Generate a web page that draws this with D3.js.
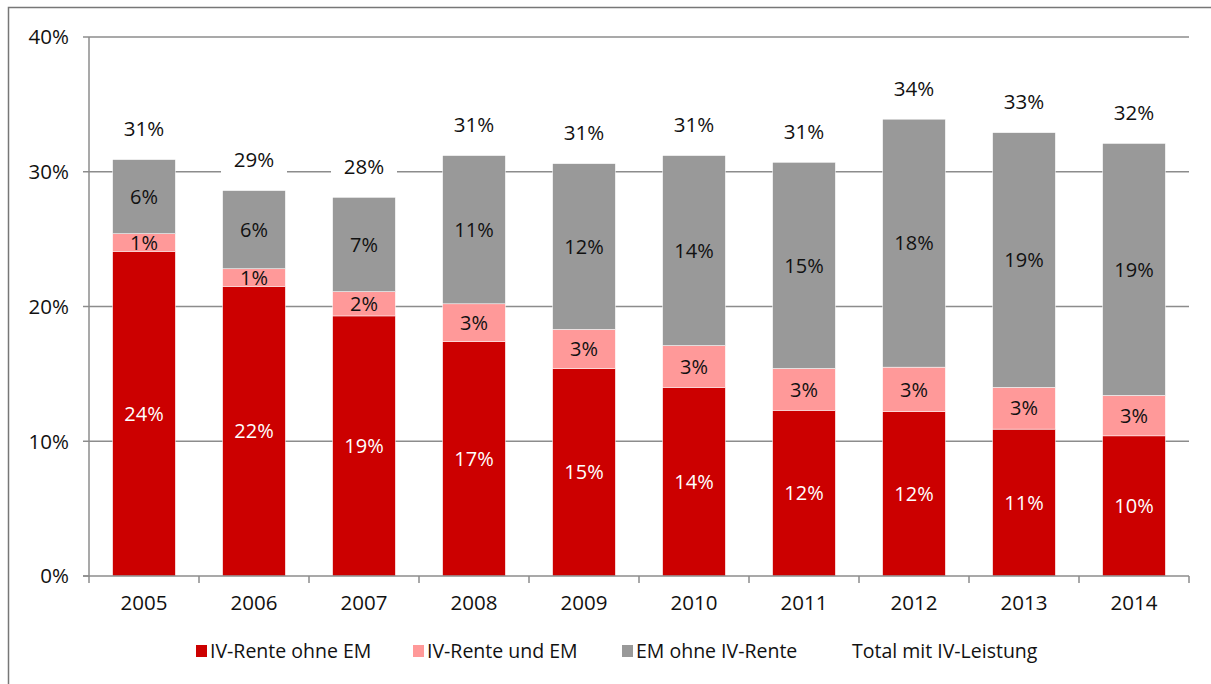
<!DOCTYPE html>
<html><head><meta charset="utf-8">
<script src="https://cdn.jsdelivr.net/npm/d3@7/dist/d3.min.js"></script>
<style>body{margin:0;background:#fff}svg{display:block;font-family:"Open Sans",sans-serif}</style>
</head><body>
<svg id="c" width="1211" height="684"></svg>
<script>
const years = ["2005","2006","2007","2008","2009","2010","2011","2012","2013","2014"];
const ivOhneEM = [24.1,21.5,19.3,17.4,15.4,14.0,12.3,12.2,10.9,10.4];
const ivUndEM  = [1.3,1.3,1.8,2.8,2.9,3.1,3.1,3.3,3.1,3.0];
const emOhneIV = [5.5,5.8,7.0,11.0,12.3,14.1,15.3,18.4,18.9,18.7];
const totals   = [31,29,28,31,31,31,31,34,33,32];
const yTicks = [0,10,20,30,40];
const seriesNames = ["IV-Rente ohne EM","IV-Rente und EM","EM ohne IV-Rente","Total mit IV-Leistung"];
const colors = ["#cc0000","#ff9999","#999999"];

const svg = d3.select("#c");
svg.append("rect").attr("x",8.5).attr("y",7.5).attr("width",1220).attr("height",700)
  .attr("fill","none").attr("stroke","#777").attr("stroke-width",1.5);

const x = d3.scaleBand().domain(years).range([89,1189]).paddingInner(0.43).paddingOuter(0.215);
const y = d3.scaleLinear().domain([0,40]).range([576,37]);

// gridlines
svg.append("g").selectAll("line").data(yTicks.slice(1)).join("line")
  .attr("x1",89).attr("x2",1189).attr("y1",d=>y(d)).attr("y2",d=>y(d))
  .attr("stroke","#8c8c8c").attr("stroke-width",1.5);

// stack
const data = years.map((yr,i)=>({yr, a:ivOhneEM[i], b:ivUndEM[i], c:emOhneIV[i], t:totals[i]}));
const stack = d3.stack().keys(["a","b","c"])(data);
const g = svg.append("g");
stack.forEach((s,si)=>{
  g.selectAll(null).data(s).join("rect")
    .attr("x",d=>x(d.data.yr)).attr("width",x.bandwidth())
    .attr("y",d=>y(d[1])).attr("height",d=>y(d[0])-y(d[1]))
    .attr("fill",colors[si]).attr("stroke","#fff").attr("stroke-width",0.5);
  g.selectAll(null).data(s).join("text")
    .attr("x",d=>x(d.data.yr)+x.bandwidth()/2)
    .attr("y",d=>(y(d[0])+y(d[1]))/2)
    .attr("dy","0.36em").attr("text-anchor","middle")
    .attr("font-size",20).attr("fill",si===0?"#fff":"#111")
    .text(d=>Math.round(d[1]-d[0])+"%");
});

// axes
const ax = svg.append("g").attr("stroke","#8c8c8c").attr("stroke-width",1.5);
ax.append("line").attr("x1",89).attr("x2",89).attr("y1",37).attr("y2",577);
ax.append("line").attr("x1",83).attr("x2",1189).attr("y1",576).attr("y2",576);
ax.selectAll(null).data(yTicks).join("line").attr("x1",83).attr("x2",89).attr("y1",d=>y(d)).attr("y2",d=>y(d));
const bstep = x.step();
ax.selectAll(null).data(d3.range(years.length+1)).join("line")
  .attr("x1",d=>89+d*bstep).attr("x2",d=>89+d*bstep).attr("y1",576).attr("y2",583);

svg.append("g").selectAll("text").data(yTicks).join("text")
  .attr("x",69).attr("y",d=>y(d)).attr("dy","0.36em").attr("text-anchor","end")
  .attr("font-size",20.5).attr("fill","#111").text(d=>d+"%");
svg.append("g").selectAll("text").data(years).join("text")
  .attr("x",d=>x(d)+x.bandwidth()/2).attr("y",603).attr("dy","0.36em").attr("text-anchor","middle")
  .attr("font-size",20.5).attr("fill","#111").text(d=>d);

// totals with white boxes
const tg = svg.append("g");
data.forEach(d=>{
  const cx = x(d.yr)+x.bandwidth()/2;
  const top = y(d.a+d.b+d.c);
  tg.append("rect").attr("x",cx-33).attr("y",top-45).attr("width",66).attr("height",30).attr("fill","#fff");
  tg.append("text").attr("x",cx).attr("y",top-31).attr("dy","0.36em").attr("text-anchor","middle")
    .attr("font-size",20.5).attr("fill","#111").text(d.t+"%");
});

// legend
const lg = svg.append("g");
const lx = [196,413,622,852];
seriesNames.forEach((n,i)=>{
  if(i<3) lg.append("rect").attr("x",lx[i]).attr("y",645).attr("width",11).attr("height",12).attr("fill",colors[i]);
  lg.append("text").attr("x",i<3?lx[i]+14:lx[i]).attr("y",651).attr("dy","0.36em")
    .attr("font-size",19.5).attr("fill","#111").text(n);
});
</script>
</body></html>
